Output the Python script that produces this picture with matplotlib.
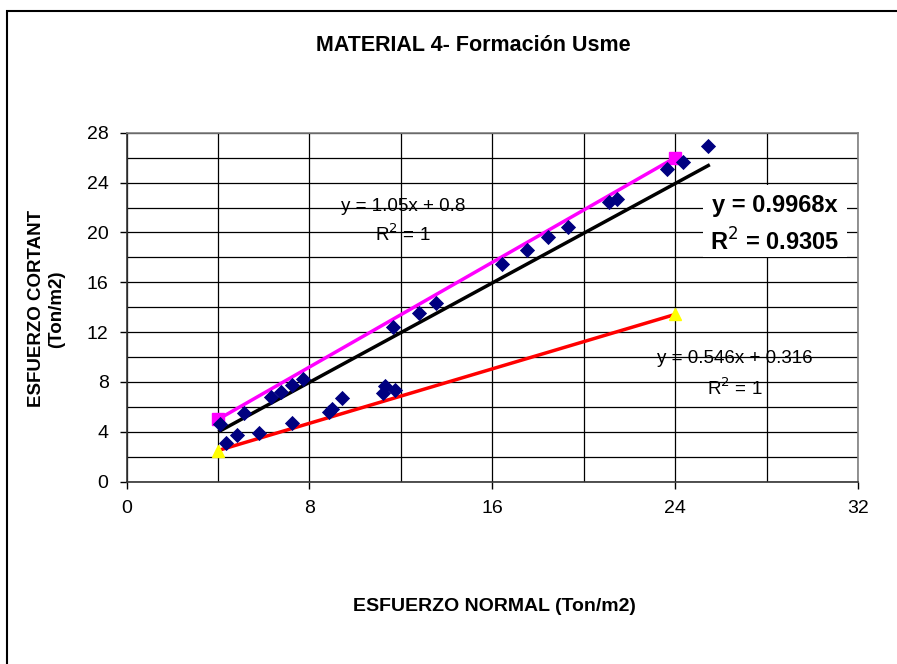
import matplotlib
matplotlib.use("Agg")
import matplotlib.pyplot as plt
from matplotlib.patches import Rectangle
import numpy as np

plt.rcParams['font.family'] = ['Liberation Sans', 'DejaVu Sans']

# Measured shear tests: normal stress vs shear stress (Ton/m2)
normal_stress = [4.08, 4.34, 4.84, 5.13, 5.80, 6.30, 6.75, 7.23, 7.23, 7.72,
                 8.86, 9.00, 9.44, 11.22, 11.29, 11.75, 11.66, 12.78, 13.52,
                 16.42, 17.52, 18.45, 19.31, 21.10, 21.45, 23.65, 24.34, 25.45]
shear_stress = [4.63, 3.08, 3.75, 5.49, 3.93, 6.82, 7.22, 7.73, 4.74, 8.22,
                5.62, 5.80, 6.74, 7.14, 7.68, 7.36, 12.44, 13.56, 14.37,
                17.47, 18.60, 19.66, 20.47, 22.47, 22.71, 25.07, 25.68, 26.97]

# Upper envelope: y = 1.05x + 0.8
upper_slope, upper_icpt = 1.05, 0.8
upper_x = [4, 24]
# Lower envelope: y = 0.546x + 0.316
lower_slope, lower_icpt = 0.546, 0.316
lower_x = [4, 24]
# Trend through origin of measured points
trend_slope, trend_r2 = 0.9968, 0.9305

x_ticks = [0, 8, 16, 24, 32]
y_ticks = [0, 4, 8, 12, 16, 20, 24, 28]

fig = plt.figure(figsize=(8.97, 6.64), dpi=100)
ax = fig.add_axes([0.1412, 0.2746, 0.9565 - 0.1412, 0.8001 - 0.2746])

ax.set_xlim(0, 32)
ax.set_ylim(0, 28)
ax.set_xticks(x_ticks)
ax.set_yticks(y_ticks)
ax.set_xticks(np.arange(0, 33, 4), minor=True)
ax.set_yticks(np.arange(0, 29, 2), minor=True)
ax.grid(True, which='both', color='black', linewidth=0.9)
ax.set_axisbelow(True)
ax.tick_params(axis='both', which='major', labelsize=14, direction='out',
               length=5, width=1, pad=8)
ax.tick_params(axis='x', which='minor', length=0)
ax.tick_params(axis='y', which='minor', length=0)
for side in ['top', 'right']:
    ax.spines[side].set_color('#808080')
    ax.spines[side].set_linewidth(1.2)
for side in ['left', 'bottom']:
    ax.spines[side].set_color('#333333')
    ax.spines[side].set_linewidth(1.2)

# Trend line through origin over the range of the data
tx = np.array([min(normal_stress), max(normal_stress)])
ax.plot(tx, trend_slope * tx, color='black', linewidth=2.5, zorder=3)

# Upper and lower envelopes
ux = np.array(upper_x)
ax.plot(ux, upper_slope * ux + upper_icpt, color='#FF00FF', linewidth=2.5,
        marker='s', markersize=8, markerfacecolor='#FF00FF',
        markeredgecolor='#FF00FF', zorder=4)
lx = np.array(lower_x)
ax.plot(lx, lower_slope * lx + lower_icpt, color='#FF0000', linewidth=2.5,
        zorder=4)
ax.plot(lx, lower_slope * lx + lower_icpt, linestyle='none', marker='^',
        markersize=9, markerfacecolor='#FFFF00', markeredgecolor='#FFFF00',
        zorder=4.5)

# Measured points
ax.scatter(normal_stress, shear_stress, marker='D', s=60, color='#000080',
           zorder=5, linewidths=0)

# Equation labels
ax.text(12.08, 22.07, f"y = {upper_slope:g}x + {upper_icpt:g}", ha='center',
        va='center', fontsize=13.5, zorder=6)
ax.text(12.08, 19.86, "R$^2$ = 1", ha='center', va='center', fontsize=13.5,
        zorder=6)
ax.text(26.6, 9.85, f"y = {lower_slope:g}x + {lower_icpt:g}", ha='center',
        va='center', fontsize=13.5, zorder=6)
ax.text(26.6, 7.5, "R$^2$ = 1", ha='center', va='center', fontsize=13.5,
        zorder=6)

# Trend equation on a white box
ax.add_patch(Rectangle((25.2, 18.03), 6.3, 5.78, facecolor='white',
                       edgecolor='none', zorder=5.5))
ax.text(28.35, 22.13, f"y = {trend_slope:.4f}x", ha='center', va='center',
        fontsize=17, fontweight='bold', zorder=6)
ax.text(28.35, 19.24, f"R$^{{2}}$ = {trend_r2:.4f}", ha='center',
        va='center', fontsize=17, fontweight='bold', zorder=6)

fig.text(0.528, 0.932, "MATERIAL 4- Formación Usme", ha='center', va='center',
         fontsize=15.5, fontweight='bold')
fig.text(0.551, 0.086, "ESFUERZO NORMAL (Ton/m2)", ha='center', va='center',
         fontsize=14, fontweight='bold')
fig.text(0.052, 0.535, "ESFUERZO CORTANT\n(Ton/m2)", ha='center', va='center',
         rotation=90, fontsize=13.5, fontweight='bold', linespacing=1.25)

# Chart frame
fig.patches.append(Rectangle((7 / 897, -0.1), 1.2, 1 - 11 / 664 + 0.1,
                             transform=fig.transFigure, fill=False,
                             edgecolor='black', linewidth=1.5))

fig.savefig("out.png", dpi=100)
